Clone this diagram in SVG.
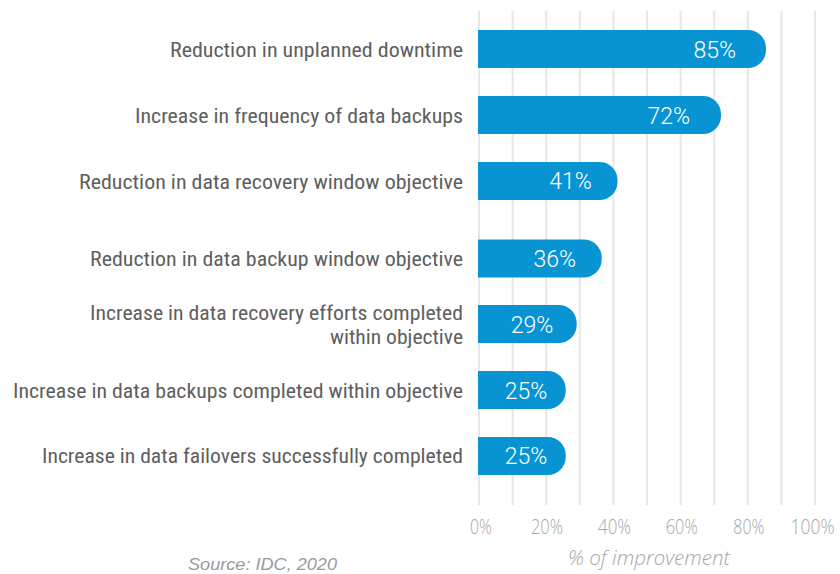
<svg xmlns="http://www.w3.org/2000/svg" width="840" height="574" viewBox="0 0 840 574">
<style>
.grid{stroke:#e6e6e6;stroke-width:2}
.bar{fill:#0894d3}
.lbl{font-family:"Roboto Condensed","Liberation Sans",Arial,sans-serif;font-size:21px;fill:#5e5e5e;text-anchor:end}
.val{font-family:Roboto,"Liberation Sans",Arial,sans-serif;font-weight:300;font-size:23px;fill:#ffffff}
.tick{font-family:"Open Sans","Liberation Sans",Arial,sans-serif;font-weight:300;font-size:20px;fill:#a6a6a6;text-anchor:middle}
.axt{font-family:"Open Sans","Liberation Sans",Arial,sans-serif;font-weight:300;font-style:italic;font-size:20px;fill:#a6a6a6}
.src{font-family:"Liberation Sans",Arial,sans-serif;font-style:italic;font-size:16px;fill:#9a9a9a}
</style>
<rect width="840" height="574" fill="#ffffff"/>
<g id="grid">
<line class="grid" x1="479" y1="11" x2="479" y2="505"/>
<line class="grid" x1="512.6" y1="11" x2="512.6" y2="505"/>
<line class="grid" x1="546.2" y1="11" x2="546.2" y2="505"/>
<line class="grid" x1="579.8" y1="11" x2="579.8" y2="505"/>
<line class="grid" x1="613.4" y1="11" x2="613.4" y2="505"/>
<line class="grid" x1="647" y1="11" x2="647" y2="505"/>
<line class="grid" x1="680.6" y1="11" x2="680.6" y2="505"/>
<line class="grid" x1="714.2" y1="11" x2="714.2" y2="505"/>
<line class="grid" x1="747.8" y1="11" x2="747.8" y2="505"/>
<line class="grid" x1="781.4" y1="11" x2="781.4" y2="505"/>
<line class="grid" x1="815" y1="11" x2="815" y2="505"/>
</g>
<g id="row1">
<text class="lbl" x="463" y="56.5" textLength="293" lengthAdjust="spacingAndGlyphs">Reduction in unplanned downtime</text>
<path class="bar" d="M478,30 H748 A18,18 0 0 1 766,48 V50 A18,18 0 0 1 748,68 H478 Z"/>
<text class="val" x="736" y="58.3" text-anchor="end">85%</text>
</g>
<g id="row2">
<text class="lbl" x="463" y="122.5" textLength="328" lengthAdjust="spacingAndGlyphs">Increase in frequency of data backups</text>
<path class="bar" d="M478,96 H703 A18,18 0 0 1 721,114 V116 A18,18 0 0 1 703,134 H478 Z"/>
<text class="val" x="690" y="124.3" text-anchor="end">72%</text>
</g>
<g id="row3">
<text class="lbl" x="463" y="188.5" textLength="384" lengthAdjust="spacingAndGlyphs">Reduction in data recovery window objective</text>
<path class="bar" d="M478,162 H599.5 A18,18 0 0 1 617.5,180 V182 A18,18 0 0 1 599.5,200 H478 Z"/>
<text class="val" x="591.7" y="189.3" text-anchor="end">41%</text>
</g>
<g id="row4">
<text class="lbl" x="463" y="266" textLength="373" lengthAdjust="spacingAndGlyphs">Reduction in data backup window objective</text>
<path class="bar" d="M478,239.5 H583.7 A18,18 0 0 1 601.7,257.5 V259.5 A18,18 0 0 1 583.7,277.5 H478 Z"/>
<text class="val" x="576" y="267.3" text-anchor="end">36%</text>
</g>
<g id="row5">
<text class="lbl" x="463" y="320" textLength="373" lengthAdjust="spacingAndGlyphs">Increase in data recovery efforts completed</text>
<text class="lbl" x="463" y="344" textLength="133" lengthAdjust="spacingAndGlyphs">within objective</text>
<path class="bar" d="M478,305 H558.7 A18,18 0 0 1 576.7,323 V325 A18,18 0 0 1 558.7,343 H478 Z"/>
<text class="val" x="553.3" y="332.7" text-anchor="end">29%</text>
</g>
<g id="row6">
<text class="lbl" x="463" y="397.5" textLength="450" lengthAdjust="spacingAndGlyphs">Increase in data backups completed within objective</text>
<path class="bar" d="M478,371 H547.7 A18,18 0 0 1 565.7,389 V391 A18,18 0 0 1 547.7,409 H478 Z"/>
<text class="val" x="547.3" y="399" text-anchor="end">25%</text>
</g>
<g id="row7">
<text class="lbl" x="463" y="463" textLength="421" lengthAdjust="spacingAndGlyphs">Increase in data failovers successfully completed</text>
<path class="bar" d="M478,437 H547.7 A18,18 0 0 1 565.7,455 V457 A18,18 0 0 1 547.7,475 H478 Z"/>
<text class="val" x="547.3" y="464.3" text-anchor="end">25%</text>
</g>
<g id="axis">
<text class="tick" x="481" y="534" textLength="22" lengthAdjust="spacingAndGlyphs">0%</text>
<text class="tick" x="547" y="534" textLength="32" lengthAdjust="spacingAndGlyphs">20%</text>
<text class="tick" x="614.5" y="534" textLength="33" lengthAdjust="spacingAndGlyphs">40%</text>
<text class="tick" x="681.7" y="534" textLength="32" lengthAdjust="spacingAndGlyphs">60%</text>
<text class="tick" x="748.8" y="534" textLength="31" lengthAdjust="spacingAndGlyphs">80%</text>
<text class="tick" x="812.5" y="534" textLength="44" lengthAdjust="spacingAndGlyphs">100%</text>
<text class="axt" x="568" y="565" textLength="162" lengthAdjust="spacingAndGlyphs">% of improvement</text>
</g>
<text class="src" x="188" y="569.5" textLength="149" lengthAdjust="spacingAndGlyphs">Source: IDC, 2020</text>
</svg>
